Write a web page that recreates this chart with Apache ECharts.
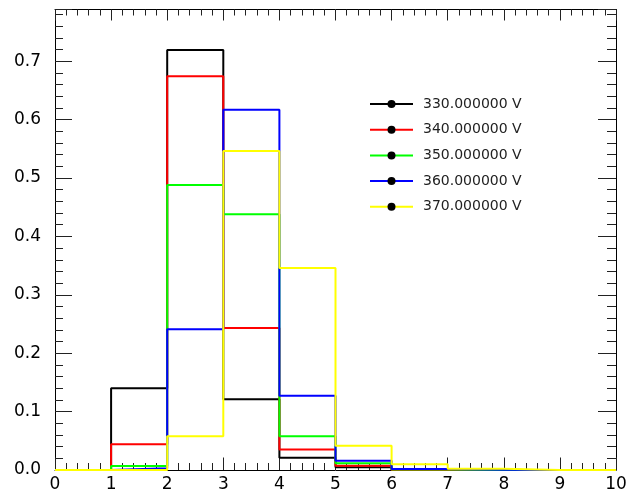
<!DOCTYPE html>
<html>
<head>
<meta charset="utf-8">
<script src="https://cdn.jsdelivr.net/npm/echarts@6/dist/echarts.min.js"></script>
<style>
html,body{margin:0;padding:0;background:#fff;}
#chart{width:626px;height:502px;}
</style>
</head>
<body>
<div id="chart"></div>
<script>
// bin edges (x axis 0..10, unit bins)
var binEdges = [0, 1, 2, 3, 4, 5, 6, 7, 8, 9, 10];
var seriesNames = ['330.000000 V', '340.000000 V', '350.000000 V', '360.000000 V', '370.000000 V'];
var seriesColors = ['#000000', '#ff0000', '#00ff00', '#0000ff', '#ffff00'];
// bin contents (10 bins each)
var v330 = [0, 0.140, 0.719, 0.121, 0.021, 0.0046, 0, 0, 0, 0];
var v340 = [0, 0.044, 0.674, 0.243, 0.035, 0.0074, 0, 0, 0, 0];
var v350 = [0, 0.007, 0.488, 0.438, 0.058, 0.0114, 0.001, 0, 0, 0];
var v360 = [0, 0.003, 0.241, 0.617, 0.127, 0.016, 0.0017, 0.0006, 0, 0];
var v370 = [0, 0, 0.058, 0.546, 0.346, 0.0416, 0.0097, 0.002, 0, 0];
var xTicks = [0, 1, 2, 3, 4, 5, 6, 7, 8, 9, 10];
var yTicks = [0.0, 0.1, 0.2, 0.3, 0.4, 0.5, 0.6, 0.7];
var yMax = 0.7885;

var allValues = [v330, v340, v350, v360, v370];

function stepPoints(vals) {
  var pts = [];
  for (var i = 0; i < vals.length; i++) pts.push([binEdges[i], vals[i]]);
  pts.push([binEdges[vals.length], vals[vals.length - 1]]);
  return pts;
}

var FONT = 'DejaVu Sans';
var chart = echarts.init(document.getElementById('chart'), null, {renderer: 'canvas'});

var series = allValues.map(function (vals, i) {
  return {
    name: seriesNames[i],
    type: 'line',
    step: 'end',
    data: stepPoints(vals),
    xAxisIndex: 0,
    yAxisIndex: 0,
    symbol: 'circle',
    showSymbol: false,
    clip: false,
    silent: true,
    animation: false,
    lineStyle: {color: seriesColors[i], width: 2},
    itemStyle: {color: seriesColors[i]},
    z: 2 + i
  };
});

var tickColor = '#222';

var option = {
  animation: false,
  backgroundColor: '#ffffff',
  grid: {left: 55, right: 10, top: 9.5, bottom: 32, containLabel: false, outerBoundsMode: 'none'},
  legend: {
    orient: 'vertical',
    left: 369,
    top: 96,
    padding: 0,
    itemWidth: 43,
    itemHeight: 10,
    itemGap: 9.7,
    selectedMode: false,
    data: seriesNames.map(function (n) {
      return {name: n, itemStyle: {color: '#000'}};
    }),
    lineStyle: {width: 2},
    textStyle: {fontFamily: FONT, fontSize: 14, color: '#222', lineHeight: 16, padding: [0, 0, 0, 5]}
  },
  xAxis: [
    {
      type: 'value', position: 'bottom', offset: 0, min: xTicks[0], max: xTicks[xTicks.length - 1], interval: 1,
      axisLine: {show: true, onZero: false, lineStyle: {color: '#000', width: 1}},
      axisTick: {show: true, inside: true, length: 12.5, lineStyle: {color: tickColor}},
      minorTick: {show: true, splitNumber: 5, length: 7, lineStyle: {color: tickColor}},
      splitLine: {show: false},
      axisLabel: {show: true, margin: 6, fontFamily: FONT, fontSize: 17, color: '#000',
        formatter: function (v) { return xTicks.indexOf(v) >= 0 ? String(v) : ''; }}
    },
    {
      type: 'value', position: 'top', offset: 0, min: xTicks[0], max: xTicks[xTicks.length - 1], interval: 1,
      axisLine: {show: true, onZero: false, lineStyle: {color: '#000', width: 1}},
      axisTick: {show: true, inside: true, length: 11, lineStyle: {color: tickColor}},
      minorTick: {show: true, splitNumber: 5, length: 6, lineStyle: {color: tickColor}},
      splitLine: {show: false},
      axisLabel: {show: false}
    }
  ],
  yAxis: [
    {
      type: 'value', position: 'left', offset: 0, min: 0, max: yMax, interval: 0.1,
      axisLine: {show: true, onZero: false, lineStyle: {color: '#000', width: 1}},
      axisTick: {show: true, inside: true, length: 17, lineStyle: {color: tickColor}},
      splitLine: {show: false},
      axisLabel: {show: true, margin: 14, fontFamily: FONT, fontSize: 17, color: '#000',
        formatter: function (v) {
          for (var k = 0; k < yTicks.length; k++) {
            if (Math.abs(yTicks[k] - v) < 1e-6) return yTicks[k].toFixed(1);
          }
          return '';
        }}
    },
    {
      type: 'value', position: 'left', offset: 0, min: 0, max: yMax, interval: 0.02,
      axisLine: {show: false, onZero: false},
      axisTick: {show: true, inside: true, length: 8, lineStyle: {color: tickColor}},
      splitLine: {show: false},
      axisLabel: {show: false}
    },
    {
      type: 'value', position: 'right', offset: 0, min: 0, max: yMax, interval: 0.1,
      axisLine: {show: true, onZero: false, lineStyle: {color: '#000', width: 1}},
      axisTick: {show: true, inside: true, length: 18, lineStyle: {color: tickColor}},
      splitLine: {show: false},
      axisLabel: {show: false}
    },
    {
      type: 'value', position: 'right', offset: 0, min: 0, max: yMax, interval: 0.02,
      axisLine: {show: false, onZero: false},
      axisTick: {show: true, inside: true, length: 9, lineStyle: {color: tickColor}},
      splitLine: {show: false},
      axisLabel: {show: false}
    }
  ],
  series: series
};

chart.setOption(option);
</script>
</body>
</html>
